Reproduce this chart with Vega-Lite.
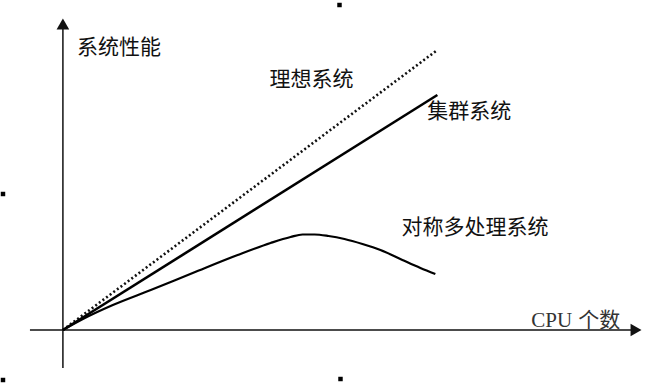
{
  "$schema": "https://vega.github.io/schema/vega-lite/v6.json",
  "width": 670,
  "height": 383,
  "autosize": {"type": "fit", "contains": "padding"},
  "padding": 0,
  "background": "white",
  "config": {"view": {"stroke": null}},
  "datasets": {
    "axes": [
      {"axis": "x", "x": -33, "y": 0, "x2": 578, "y2": 0},
      {"axis": "y", "x": 0, "y": -38, "x2": 0, "y2": 305}
    ],
    "arrows": [
      {"axis": "x", "x": 574, "y": 0, "shape": "triangle-right"},
      {"axis": "y", "x": 0, "y": 306, "shape": "triangle-up"}
    ],
    "series": [
      {"system": "理想系统", "cpu": 0, "perf": 0},
      {"system": "理想系统", "cpu": 375, "perf": 280},
      {"system": "集群系统", "cpu": 0, "perf": 0},
      {"system": "集群系统", "cpu": 375, "perf": 235},
      {"system": "对称多处理系统", "cpu": 0, "perf": 0},
      {"system": "对称多处理系统", "cpu": 20, "perf": 11},
      {"system": "对称多处理系统", "cpu": 50, "perf": 25},
      {"system": "对称多处理系统", "cpu": 88, "perf": 40},
      {"system": "对称多处理系统", "cpu": 130, "perf": 57},
      {"system": "对称多处理系统", "cpu": 175, "perf": 75},
      {"system": "对称多处理系统", "cpu": 208, "perf": 87},
      {"system": "对称多处理系统", "cpu": 228, "perf": 93},
      {"system": "对称多处理系统", "cpu": 240, "perf": 95.5},
      {"system": "对称多处理系统", "cpu": 252, "perf": 95.5},
      {"system": "对称多处理系统", "cpu": 266, "perf": 94},
      {"system": "对称多处理系统", "cpu": 282, "perf": 91},
      {"system": "对称多处理系统", "cpu": 300, "perf": 86},
      {"system": "对称多处理系统", "cpu": 318, "perf": 80},
      {"system": "对称多处理系统", "cpu": 340, "perf": 70},
      {"system": "对称多处理系统", "cpu": 358, "perf": 62},
      {"system": "对称多处理系统", "cpu": 373, "perf": 56}
    ],
    "labels": [
      {"text": "系统性能", "x": 14, "y": 282},
      {"text": "理想系统", "x": 207, "y": 250},
      {"text": "集群系统", "x": 365, "y": 218},
      {"text": "对称多处理系统", "x": 339, "y": 102}
    ],
    "xlabel": [
      {"a": "CPU", "b": "个数", "x": 469, "xb": 516, "y": 9}
    ],
    "specks": [
      {"x": -60, "y": 136},
      {"x": 277, "y": 325},
      {"x": 278, "y": -49},
      {"x": -60, "y": -50}
    ]
  },
  "layer": [
    {
      "data": {"name": "axes"},
      "mark": {"type": "rule", "stroke": "#111", "strokeWidth": 1.5},
      "encoding": {
        "x": {"field": "x", "type": "quantitative", "scale": {"domain": [-62, 608], "nice": false, "zero": false}, "axis": null},
        "y": {"field": "y", "type": "quantitative", "scale": {"domain": [-53, 330], "nice": false, "zero": false}, "axis": null},
        "x2": {"field": "x2"},
        "y2": {"field": "y2"}
      }
    },
    {
      "data": {"name": "arrows"},
      "mark": {"type": "point", "filled": true, "color": "#111", "opacity": 1, "size": 160},
      "encoding": {
        "x": {"field": "x", "type": "quantitative"},
        "y": {"field": "y", "type": "quantitative"},
        "shape": {"field": "shape", "type": "nominal", "scale": null, "legend": null}
      }
    },
    {
      "data": {"name": "series"},
      "transform": [{"filter": "datum.system === '理想系统'"}],
      "mark": {"type": "line", "stroke": "#111", "strokeWidth": 2.6, "strokeDash": [2, 2.5]},
      "encoding": {
        "x": {"field": "cpu", "type": "quantitative"},
        "y": {"field": "perf", "type": "quantitative"}
      }
    },
    {
      "data": {"name": "series"},
      "transform": [{"filter": "datum.system === '集群系统'"}],
      "mark": {"type": "line", "stroke": "#000", "strokeWidth": 2.6},
      "encoding": {
        "x": {"field": "cpu", "type": "quantitative"},
        "y": {"field": "perf", "type": "quantitative"}
      }
    },
    {
      "data": {"name": "series"},
      "transform": [{"filter": "datum.system === '对称多处理系统'"}],
      "mark": {"type": "line", "stroke": "#000", "strokeWidth": 2.2, "interpolate": "monotone"},
      "encoding": {
        "x": {"field": "cpu", "type": "quantitative"},
        "y": {"field": "perf", "type": "quantitative"}
      }
    },
    {
      "data": {"name": "labels"},
      "mark": {"type": "text", "align": "left", "baseline": "middle", "font": "Noto Sans CJK SC", "fontSize": 21, "fill": "#111"},
      "encoding": {
        "x": {"field": "x", "type": "quantitative"},
        "y": {"field": "y", "type": "quantitative"},
        "text": {"field": "text"}
      }
    },
    {
      "data": {"name": "xlabel"},
      "mark": {"type": "text", "align": "left", "baseline": "middle", "font": "Liberation Serif", "fontSize": 21, "fill": "#333"},
      "encoding": {
        "x": {"field": "x", "type": "quantitative"},
        "y": {"field": "y", "type": "quantitative"},
        "text": {"field": "a"}
      }
    },
    {
      "data": {"name": "xlabel"},
      "mark": {"type": "text", "align": "left", "baseline": "middle", "font": "Noto Sans CJK SC", "fontSize": 21, "fill": "#333"},
      "encoding": {
        "x": {"field": "xb", "type": "quantitative"},
        "y": {"field": "y", "type": "quantitative"},
        "text": {"field": "b"}
      }
    },
    {
      "data": {"name": "specks"},
      "mark": {"type": "square", "color": "#000", "opacity": 1, "size": 20},
      "encoding": {
        "x": {"field": "x", "type": "quantitative"},
        "y": {"field": "y", "type": "quantitative"}
      }
    }
  ]
}
